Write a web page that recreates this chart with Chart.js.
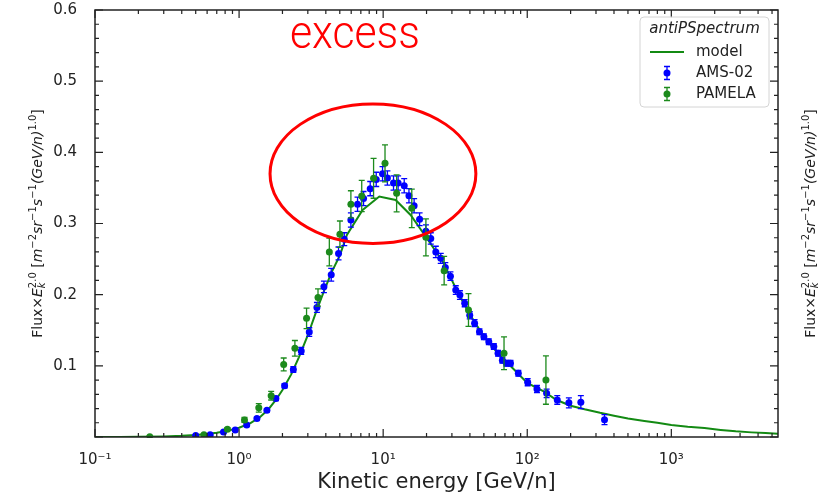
<!DOCTYPE html>
<html>
<head>
<meta charset="utf-8">
<script src="https://cdn.jsdelivr.net/npm/chart.js@4.4.1/dist/chart.umd.min.js"></script>
<style>
html,body{margin:0;padding:0;background:#fff;}
canvas{display:block;}
</style>
</head>
<body>
<canvas id="c" width="840" height="499"></canvas>
<script>
// ---------- data ----------
const modelE = [0.1,0.15,0.2,0.3,0.4,0.5,0.6,0.7,0.8,0.9,1.0,1.2,1.4,1.6,1.8,2.0,2.3,2.6,3.0,3.4,3.9,4.4,5.0,5.6,7.2,9.4,12.2,15.5,20,26,33,40,50,63,80,100,130,160,200,250,320,400,500,650,800,1000,1300,1700,2200,2800,3600,4500,5500];
const modelV = [0.0,0.0001,0.0003,0.0008,0.0016,0.0028,0.0042,0.006,0.0082,0.0105,0.013,0.0195,0.028,0.039,0.052,0.066,0.088,0.112,0.143,0.174,0.206,0.232,0.255,0.284,0.319,0.338,0.333,0.312,0.280,0.246,0.203,0.172,0.141,0.117,0.096,0.076,0.064,0.052,0.044,0.039,0.034,0.030,0.026,0.0225,0.020,0.017,0.0145,0.0125,0.010,0.008,0.0065,0.0055,0.0046];

const amsE   = [0.50,0.63,0.78,0.94,1.13,1.33,1.56,1.80,2.07,2.38,2.70,3.07,3.47,3.88,4.36,4.90,5.37,5.97,6.64,7.31,8.13,8.95,9.90,10.7,11.8,12.7,14.0,15.1,16.4,17.9,19.8,21.4,23.2,25.1,27.0,29.3,31.9,34.1,36.8,39.9,43.1,46.6,50.0,54.1,58.6,62.7,67.2,71.7,76.5,86.7,100.7,116.8,136.3,161.6,194.5,235.5,343.8];
const amsV   = [0.002,0.003,0.007,0.010,0.017,0.026,0.0375,0.054,0.072,0.095,0.121,0.1475,0.182,0.211,0.228,0.258,0.278,0.305,0.327,0.335,0.349,0.362,0.370,0.364,0.357,0.357,0.353,0.339,0.325,0.306,0.289,0.279,0.260,0.251,0.238,0.226,0.2065,0.1995,0.188,0.171,0.160,0.148,0.141,0.134,0.127,0.1176,0.108,0.1035,0.1035,0.0895,0.077,0.0674,0.0614,0.052,0.048,0.049,0.0243];
const amsErr = [0.001,0.001,0.001,0.0015,0.002,0.002,0.002,0.003,0.003,0.004,0.005,0.006,0.007,0.008,0.009,0.009,0.009,0.010,0.010,0.010,0.010,0.010,0.010,0.010,0.010,0.010,0.010,0.010,0.010,0.009,0.009,0.008,0.008,0.007,0.007,0.006,0.006,0.006,0.005,0.005,0.005,0.004,0.004,0.004,0.004,0.004,0.004,0.004,0.004,0.004,0.005,0.005,0.006,0.006,0.007,0.009,0.007];

const pamE   = [0.24,0.57,0.83,1.09,1.37,1.67,2.04,2.44,2.94,3.53,4.23,5.01,5.97,7.1,8.58,10.3,12.4,15.8,19.8,26.5,39.1,69,134.8];
const pamV   = [0.0005,0.003,0.011,0.024,0.041,0.058,0.102,0.1246,0.1667,0.196,0.26,0.285,0.327,0.3386,0.3635,0.3846,0.3424,0.3213,0.2806,0.2337,0.1785,0.1176,0.080];
const pamErr = [0.001,0.001,0.002,0.0035,0.006,0.006,0.009,0.011,0.0145,0.012,0.0195,0.0185,0.019,0.022,0.028,0.026,0.026,0.027,0.026,0.02,0.023,0.023,0.034];

const xTickValues = [0.1,1,10,100,1000];
const xTickLabels = ['10\u207B\u00B9','10\u2070','10\u00B9','10\u00B2','10\u00B3'];
const yTickLabels = ['0.1','0.2','0.3','0.4','0.5','0.6'];
const legendTitle = 'antiPSpectrum';
const seriesNames = ['model','AMS-02','PAMELA'];
const xTitle = 'Kinetic energy [GeV/n]';
const noteText = 'excess';
// annotation (data coordinates)
const noteEllipse = {eMin:1.64, eMax:44, vMin:0.272, vMax:0.468};
const notePos = {e:6.37, v:0.547};

const GREEN = '#138a13', BLUE = '#0000ff', PGREEN = '#1c8a1c', AX = '#222';
const FF = '"DejaVu Sans", sans-serif';

function isPow10(v){ const l=Math.log10(v); return Math.abs(l-Math.round(l))<1e-9; }

function drawRich(ctx, runs, cx, cy, rot){
  let w=0;
  runs.forEach(r=>{
    if(r.stack){ let m=0; r.stack.forEach(s=>{ctx.font=s.f; s.w=ctx.measureText(s.t).width; m=Math.max(m,s.w);}); r.w=m; }
    else { ctx.font=r.f; r.w=ctx.measureText(r.t).width; }
    w+=r.w;
  });
  ctx.save(); ctx.translate(cx,cy); if(rot) ctx.rotate(rot);
  ctx.textBaseline='alphabetic'; ctx.textAlign='left'; ctx.fillStyle=AX;
  let x=-w/2; const base=5;
  runs.forEach(r=>{
    if(r.stack){ r.stack.forEach(s=>{ctx.font=s.f; ctx.fillText(s.t,x,base+(s.dy||0));}); }
    else { ctx.font=r.f; ctx.fillText(r.t,x,base+(r.dy||0)); }
    x+=r.w;
  });
  ctx.restore();
}

function yLabelRuns(){
  const N='14px '+FF, I='italic 14px '+FF, S='10px '+FF, SI='italic 10px '+FF;
  return [
    {t:'Flux',f:N},{t:'\u00D7',f:N},{t:'E',f:I},
    {stack:[{t:'k',f:SI,dy:3},{t:'2.0',f:S,dy:-6}]},
    {t:' [',f:N},{t:'m',f:I},{t:'\u22122',f:S,dy:-6},
    {t:'sr',f:I},{t:'\u22121',f:S,dy:-6},
    {t:'s',f:I},{t:'\u22121',f:S,dy:-6},
    {t:'(GeV/n)',f:I},{t:'1.0',f:S,dy:-6},{t:']',f:N}
  ];
}

const decor = {
  id:'decor',
  beforeDatasetDraw(chart,args){
    const ds = chart.data.datasets[args.index];
    if(!ds.errors) return;
    const {ctx, scales:{x,y}} = chart;
    ctx.save();
    ctx.strokeStyle = ds.errColor; ctx.lineWidth = 1.3;
    ds.data.forEach((p,i)=>{
      const e=ds.errors[i];
      const px=x.getPixelForValue(p.x);
      const y1=y.getPixelForValue(p.y-e), y2=y.getPixelForValue(p.y+e);
      ctx.beginPath();
      ctx.moveTo(px,y1); ctx.lineTo(px,y2);
      ctx.moveTo(px-3,y1); ctx.lineTo(px+3,y1);
      ctx.moveTo(px-3,y2); ctx.lineTo(px+3,y2);
      ctx.stroke();
    });
    ctx.restore();
  },
  afterDraw(chart){
    const {ctx, chartArea:a, scales:{x,y}} = chart;
    ctx.save();
    // inward ticks
    ctx.strokeStyle=AX; ctx.lineWidth=1.2;
    x.ticks.forEach(t=>{
      const px=x.getPixelForValue(t.value); const L=isPow10(t.value)?8:4;
      ctx.beginPath(); ctx.moveTo(px,a.bottom); ctx.lineTo(px,a.bottom-L);
      ctx.moveTo(px,a.top); ctx.lineTo(px,a.top+L); ctx.stroke();
    });
    y.ticks.forEach((t,i)=>{
      const py=y.getPixelForValue(t.value); const L=(i%5===0)?8:4;
      ctx.beginPath(); ctx.moveTo(a.left,py); ctx.lineTo(a.left+L,py);
      ctx.moveTo(a.right,py); ctx.lineTo(a.right-L,py); ctx.stroke();
    });
    // frame
    ctx.lineWidth=1.5; ctx.strokeRect(a.left,a.top,a.right-a.left,a.bottom-a.top);

    // annotation ellipse
    const ex1=x.getPixelForValue(noteEllipse.eMin), ex2=x.getPixelForValue(noteEllipse.eMax);
    const ey1=y.getPixelForValue(noteEllipse.vMax), ey2=y.getPixelForValue(noteEllipse.vMin);
    ctx.strokeStyle='#ff0000'; ctx.lineWidth=3;
    ctx.beginPath(); ctx.ellipse((ex1+ex2)/2,(ey1+ey2)/2,(ex2-ex1)/2,(ey2-ey1)/2,0,0,Math.PI*2); ctx.stroke();
    // annotation text
    ctx.font='300 46px Roboto, "Open Sans", sans-serif';
    const tw=ctx.measureText(noteText).width;
    const tx=x.getPixelForValue(notePos.e), ty=y.getPixelForValue(notePos.v);
    ctx.save(); ctx.translate(tx,ty); ctx.scale(130/tw,1);
    ctx.fillStyle='#ff0000'; ctx.textAlign='center'; ctx.textBaseline='alphabetic';
    ctx.fillText(noteText,0,0); ctx.restore();

    // x title
    ctx.fillStyle=AX; ctx.font='21px '+FF; ctx.textAlign='center'; ctx.textBaseline='middle';
    ctx.fillText(xTitle,(a.left+a.right)/2,a.bottom+46);

    // y titles (left and right)
    drawRich(ctx,yLabelRuns(),a.left-58,(a.top+a.bottom)/2,-Math.PI/2);
    drawRich(ctx,yLabelRuns(),a.right+32,(a.top+a.bottom)/2,-Math.PI/2);

    // legend
    const lx=a.right-138, ly=a.top+7, lw=129, lh=90;
    ctx.beginPath(); ctx.roundRect(lx,ly,lw,lh,4);
    ctx.fillStyle='rgba(255,255,255,0.85)'; ctx.fill();
    ctx.strokeStyle='#d4d4d4'; ctx.lineWidth=1; ctx.stroke();
    ctx.fillStyle=AX; ctx.textBaseline='middle';
    ctx.font='italic 15px '+FF; ctx.textAlign='center';
    ctx.fillText(legendTitle,lx+lw/2,ly+12);
    ctx.textAlign='left'; ctx.font='15px '+FF;
    const rows=[ly+35,ly+56,ly+77];
    ctx.strokeStyle=GREEN; ctx.lineWidth=2;
    ctx.beginPath(); ctx.moveTo(lx+10,rows[0]); ctx.lineTo(lx+44,rows[0]); ctx.stroke();
    [[BLUE,rows[1]],[PGREEN,rows[2]]].forEach(([c,ry])=>{
      const mx=lx+27;
      ctx.strokeStyle=c; ctx.lineWidth=1.3;
      ctx.beginPath(); ctx.moveTo(mx,ry-6.5); ctx.lineTo(mx,ry+6.5);
      ctx.moveTo(mx-3,ry-6.5); ctx.lineTo(mx+3,ry-6.5);
      ctx.moveTo(mx-3,ry+6.5); ctx.lineTo(mx+3,ry+6.5); ctx.stroke();
      ctx.fillStyle=c; ctx.beginPath(); ctx.arc(mx,ry,3.5,0,Math.PI*2); ctx.fill();
    });
    ctx.fillStyle=AX;
    seriesNames.forEach((n,i)=>ctx.fillText(n,lx+56,rows[i]));
    ctx.restore();
  }
};

const toPts = (E,V)=>E.map((e,i)=>({x:e,y:V[i]}));
const zeroPad = (s)=>{s.paddingTop=0;s.paddingBottom=0;s.paddingLeft=0;s.paddingRight=0;};

new Chart(document.getElementById('c'),{
  type:'scatter',
  data:{datasets:[
    {type:'line',label:seriesNames[0],data:toPts(modelE,modelV),borderColor:GREEN,borderWidth:2,pointRadius:0,tension:0,fill:false,order:3},
    {label:seriesNames[1],data:toPts(amsE,amsV),errors:amsErr,errColor:BLUE,backgroundColor:BLUE,borderWidth:0,pointRadius:3.5,order:2},
    {label:seriesNames[2],data:toPts(pamE,pamV),errors:pamErr,errColor:PGREEN,backgroundColor:PGREEN,borderWidth:0,pointRadius:3.5,order:1}
  ]},
  options:{
    responsive:false, animation:false, devicePixelRatio:1,
    layout:{padding:{left:0,top:10,right:62,bottom:0}},
    plugins:{legend:{display:false},tooltip:{enabled:false}},
    scales:{
      x:{type:'logarithmic',min:0.1,max:5500,
        grid:{display:false,drawTicks:false},border:{display:false},
        afterBuildTicks(s){const t=[];for(let k=-1;k<=3;k++)for(let m=1;m<=9;m++){const v=m*Math.pow(10,k);if(v<=5500)t.push({value:v});}s.ticks=t;},
        ticks:{autoSkip:false,maxRotation:0,padding:14,color:AX,font:{family:'DejaVu Sans',size:15},
          callback:(v)=>{const i=xTickValues.findIndex(t=>Math.abs(t-v)/t<1e-9);return i>=0?xTickLabels[i]:'';}},
        afterFit(s){s.height=62;zeroPad(s);}
      },
      y:{min:0,max:0.6,
        grid:{display:false,drawTicks:false},border:{display:false},
        afterBuildTicks(s){const t=[];for(let i=0;i<=30;i++)t.push({value:i/50});s.ticks=t;},
        ticks:{autoSkip:false,padding:18,color:AX,font:{family:'DejaVu Sans',size:15},
          callback:(v,i)=>(i%5===0&&i>0)?yTickLabels[i/5-1]:''},
        afterFit(s){s.width=95;zeroPad(s);}
      }
    }
  },
  plugins:[decor]
});
</script>
</body>
</html>
